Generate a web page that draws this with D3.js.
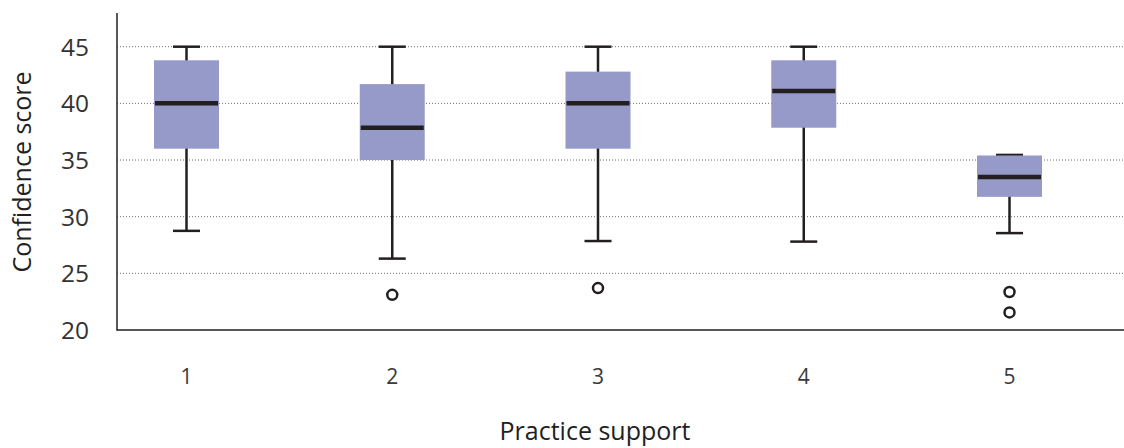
<!DOCTYPE html>
<html><head><meta charset="utf-8">
<script src="https://cdn.jsdelivr.net/npm/d3@7"></script>
<style>body{margin:0;background:#fff}svg{display:block}</style>
</head><body>
<svg id="c" width="1124" height="448"></svg>
<script>
const categories = ["1","2","3","4","5"];
const whiskerLow  = [28.75, 26.3, 27.85, 27.8, 28.55];
const q1          = [36.0, 35.0, 36.0, 37.85, 31.75];
const median      = [40.0, 37.85, 40.0, 41.1, 33.5];
const q3          = [43.8, 41.7, 42.8, 43.8, 35.4];
const whiskerHigh = [45.0, 45.0, 45.0, 45.0, 35.45];
const outliers    = [[], [23.1], [23.7], [], [23.35, 21.55]];
const yTicks = [20,25,30,35,40,45];

const svg = d3.select("#c");
const ink = "#231f20";
const x0 = 117, yBottom = 330;
const y = d3.scaleLinear().domain([20,45]).range([330,46.7]);
const x = d3.scalePoint().domain(categories).range([186.5,1009.5]);
const boxW = 65, capW = 27;
const font = "'Open Sans', 'Noto Sans', sans-serif";

// grid
svg.append("g").selectAll("line").data(yTicks.filter(d=>d>20)).join("line")
  .attr("x1",x0).attr("x2",1124).attr("y1",d=>y(d)).attr("y2",d=>y(d))
  .attr("stroke","#6d6d6d").attr("stroke-width",1).attr("stroke-dasharray","1,2");

// y tick labels
svg.append("g").selectAll("text").data(yTicks).join("text")
  .attr("x",89).attr("y",d=>y(d)).attr("dy","0.36em").attr("text-anchor","end")
  .attr("font-family",font).attr("font-size",24.5).attr("fill","#333").text(d=>d);

// axes
svg.append("line").attr("x1",x0).attr("x2",x0).attr("y1",13).attr("y2",yBottom+0.7)
  .attr("stroke",ink).attr("stroke-width",1.5);
svg.append("line").attr("x1",x0).attr("x2",1124).attr("y1",yBottom).attr("y2",yBottom)
  .attr("stroke",ink).attr("stroke-width",1.5);

const data = categories.map((c,i)=>({c, lo:whiskerLow[i], q1:q1[i], med:median[i], q3:q3[i], hi:whiskerHigh[i], out:outliers[i]}));
const g = svg.append("g").selectAll("g").data(data).join("g");

// whisker stems
g.append("line").attr("x1",d=>x(d.c)).attr("x2",d=>x(d.c)).attr("y1",d=>y(d.hi)).attr("y2",d=>y(d.lo))
  .attr("stroke",ink).attr("stroke-width",2.5);
// caps
g.append("line").attr("x1",d=>x(d.c)-capW/2).attr("x2",d=>x(d.c)+capW/2).attr("y1",d=>y(d.hi)).attr("y2",d=>y(d.hi))
  .attr("stroke",ink).attr("stroke-width",2.5);
g.append("line").attr("x1",d=>x(d.c)-capW/2).attr("x2",d=>x(d.c)+capW/2).attr("y1",d=>y(d.lo)).attr("y2",d=>y(d.lo))
  .attr("stroke",ink).attr("stroke-width",2.5);
// box
g.append("rect").attr("x",d=>x(d.c)-boxW/2).attr("width",boxW)
  .attr("y",d=>y(d.q3)).attr("height",d=>y(d.q1)-y(d.q3)).attr("fill","#959ac8");
// median
g.append("line").attr("x1",d=>x(d.c)-boxW/2+1).attr("x2",d=>x(d.c)+boxW/2-1).attr("y1",d=>y(d.med)).attr("y2",d=>y(d.med))
  .attr("stroke",ink).attr("stroke-width",4.5);
// outliers
g.selectAll("circle").data(d=>d.out.map(v=>({c:d.c,v}))).join("circle")
  .attr("cx",d=>x(d.c)).attr("cy",d=>y(d.v)).attr("r",5)
  .attr("fill","#fff").attr("stroke",ink).attr("stroke-width",2.5);

// x tick labels
svg.append("g").selectAll("text").data(categories).join("text")
  .attr("x",d=>x(d)).attr("y",384).attr("text-anchor","middle")
  .attr("font-family",font).attr("font-size",21).attr("fill","#3a3a3a").text(d=>d);

// axis titles
svg.append("text").attr("x",595).attr("y",440).attr("text-anchor","middle")
  .attr("font-family",font).attr("font-size",25).attr("fill","#231f20").text("Practice support");
svg.append("text").attr("transform","translate(31,172) rotate(-90)").attr("text-anchor","middle")
  .attr("font-family",font).attr("font-size",25).attr("fill","#231f20").text("Confidence score");
</script>
</body></html>
